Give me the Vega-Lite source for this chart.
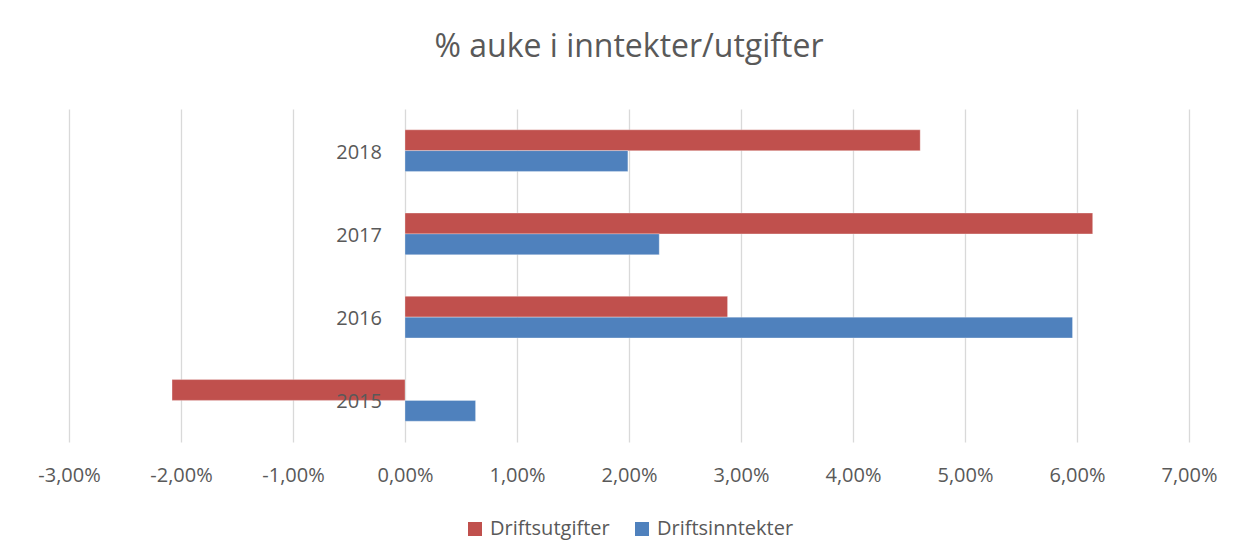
{
  "$schema": "https://vega.github.io/schema/vega-lite/v6.json",
  "width": 1120,
  "height": 333,
  "autosize": "none",
  "padding": {"left": 69, "top": 109, "right": 58, "bottom": 117},
  "background": "white",
  "title": {
    "text": "% auke i inntekter/utgifter",
    "font": "Open Sans",
    "fontSize": 32,
    "fontWeight": "normal",
    "color": "#595959",
    "anchor": "middle",
    "offset": 45
  },
  "datasets": {
    "bars": [
      {"year": "2018", "series": "Driftsutgifter", "value": 4.60},
      {"year": "2018", "series": "Driftsinntekter", "value": 1.99},
      {"year": "2017", "series": "Driftsutgifter", "value": 6.14},
      {"year": "2017", "series": "Driftsinntekter", "value": 2.27},
      {"year": "2016", "series": "Driftsutgifter", "value": 2.88},
      {"year": "2016", "series": "Driftsinntekter", "value": 5.96},
      {"year": "2015", "series": "Driftsutgifter", "value": -2.08},
      {"year": "2015", "series": "Driftsinntekter", "value": 0.63}
    ]
  },
  "data": {"name": "bars"},
  "layer": [
    {
      "mark": {"type": "bar", "stroke": "white", "strokeWidth": 0.5, "strokeOpacity": 0.6},
      "encoding": {
        "y": {
          "field": "year",
          "type": "nominal",
          "sort": ["2018", "2017", "2016", "2015"],
          "scale": {"paddingInner": 0.5, "paddingOuter": 0.25},
          "axis": null
        },
        "yOffset": {
          "field": "series",
          "type": "nominal",
          "sort": ["Driftsutgifter", "Driftsinntekter"]
        },
        "x": {
          "field": "value",
          "type": "quantitative",
          "scale": {"domain": [-3, 7], "nice": false, "zero": false},
          "axis": {
            "values": [-3, -2, -1, 0, 1, 2, 3, 4, 5, 6, 7],
            "labelExpr": "replace(replace(format(datum.value, '.2f'), '.', ','), '\u2212', '-') + '%'",
            "title": null,
            "domain": false,
            "ticks": false,
            "grid": true,
            "gridColor": "#d9d9d9",
            "gridWidth": 1.3,
            "labelFont": "Open Sans",
            "labelFontSize": 20,
            "labelColor": "#595959",
            "labelPadding": 23,
            "labelFlush": false,
            "labelOverlap": false,
            "labelBound": false
          }
        },
        "color": {
          "field": "series",
          "type": "nominal",
          "sort": ["Driftsutgifter", "Driftsinntekter"],
          "scale": {"domain": ["Driftsutgifter", "Driftsinntekter"], "range": ["#C0504D", "#4F81BD"]},
          "legend": {
            "title": null,
            "orient": "bottom",
            "direction": "horizontal",
            "symbolType": "square",
            "symbolSize": 196,
            "symbolStrokeWidth": 0,
            "labelFont": "Open Sans",
            "labelFontSize": 20,
            "labelColor": "#595959",
            "columnPadding": 22,
            "labelOffset": 5,
            "offset": 34
          }
        }
      }
    },
    {
      "transform": [{"filter": "datum.series === 'Driftsutgifter'"}],
      "mark": {"type": "text", "align": "right", "baseline": "middle", "dx": -23, "dy": 2, "font": "Open Sans", "fontSize": 20, "color": "#595959"},
      "encoding": {
        "y": {"field": "year", "type": "nominal", "sort": ["2018", "2017", "2016", "2015"]},
        "x": {"datum": 0},
        "text": {"field": "year"}
      }
    }
  ],
  "config": {
    "view": {"stroke": null},
    "legend": {"layout": {"bottom": {"anchor": "middle"}}}
  }
}
